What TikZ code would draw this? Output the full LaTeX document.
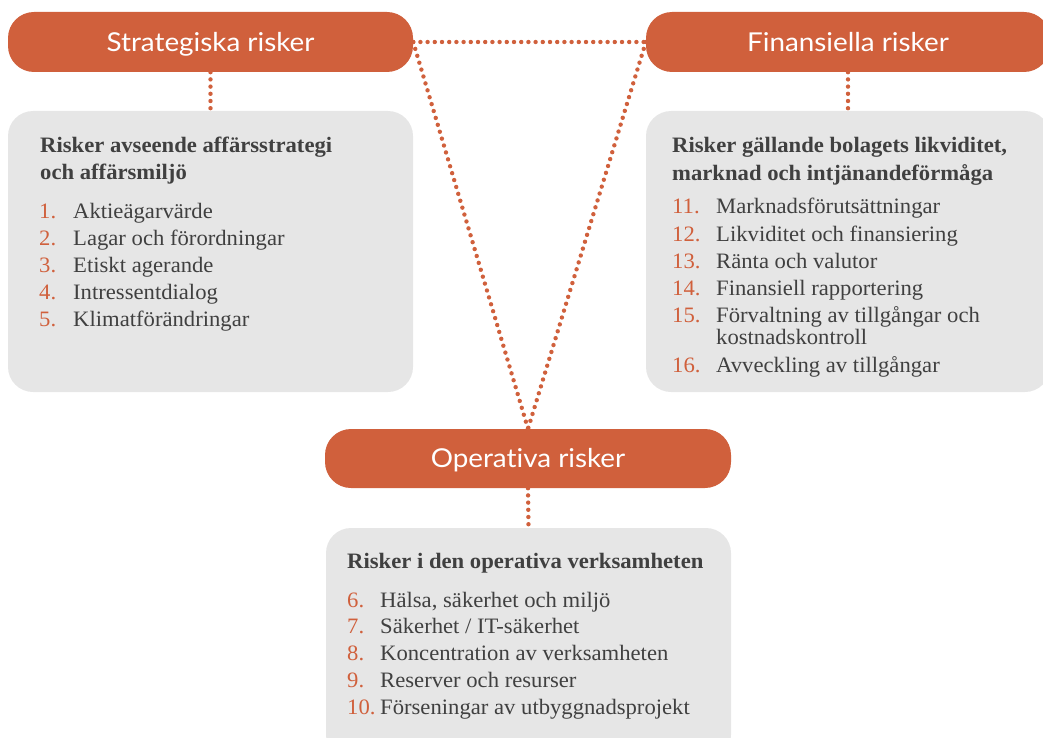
\documentclass[tikz,border=0pt]{standalone}
\usepackage{fontspec}
\setmainfont{Liberation Serif}[FakeStretch=1.03]
\newfontfamily\hdfont{Lato}[FakeStretch=1.07, Ligatures=NoCommon]
\usetikzlibrary{backgrounds}
\definecolor{rorange}{HTML}{D0603C}
\definecolor{rgray}{HTML}{E6E6E6}
\definecolor{rtext}{HTML}{404040}
\begin{document}
\begin{tikzpicture}[x=1pt,y=-1pt,
  header/.style={fill=rorange, rounded corners=26pt, minimum height=60pt, text=white,
    font=\hdfont\fontsize{26}{26}\selectfont, inner sep=0pt, text height=18.5pt, text depth=0pt},
  panel/.style={fill=rgray, rounded corners=25pt, inner sep=0pt},
  dotline/.style={draw=rorange, line width=4.4pt, line cap=round, dash pattern=on 0pt off 7.2pt},
  headtxt/.style={anchor=base west, inner sep=0pt, text=rtext, font=\fontsize{22}{22}\selectfont\bfseries},
  numtxt/.style={anchor=base west, inner sep=0pt, text=rorange, font=\fontsize{22}{22}\selectfont},
  itemtxt/.style={anchor=base west, inner sep=0pt, text=rtext, font=\fontsize{22}{22}\selectfont}]
\useasboundingbox (0,0) rectangle (1043,738);
\clip (0,0) rectangle (1043,738);

% headers
\node[header, minimum width=405pt] (strat) at (210.5,42) {Strategiska risker};
\node[header, minimum width=404pt] (fin) at (848,42) {Finansiella risker};
\node[header, minimum width=406pt, minimum height=59pt] (oper) at (528,458.5) {Operativa risker};

% panels
\node[panel, minimum width=405pt, minimum height=281pt] (lp) at (210.5,251.5) {};
\node[panel, minimum width=404pt, minimum height=281pt] (rp) at (848,251.5) {};
\node[panel, minimum width=405pt, minimum height=232pt] (bp) at (528.5,644) {};

% connectors
\begin{scope}[on background layer]
\draw[dotline] (strat.south) -- (lp.north);
\draw[dotline] (fin.south) -- (rp.north);
\draw[dotline] (oper.south) -- (bp.north);
\draw[dotline] (strat.east) -- (fin.west);
\draw[dotline] (strat.east) -- (oper.north);
\draw[dotline] (fin.west) -- (oper.north);
\end{scope}

% left panel text
\node[headtxt] (lh1) at (40,153) {Risker avseende affärsstrategi};
\node[headtxt] (lh2) at (40,179.5) {och affärsmiljö};
\foreach \n/\t/\y [count=\i] in {1./Aktieägarvärde/218, 2./Lagar och förordningar/245, 3./Etiskt agerande/272, 4./Intressentdialog/299, 5./Klimatförändringar/326}{
  \node[numtxt] (ln\i) at (39,\y) {\n};
  \node[itemtxt] (li\i) at (73,\y) {\t};
}

% right panel text
\node[headtxt] (rh1) at (672,153) {Risker gällande bolagets likviditet,};
\node[headtxt] (rh2) at (672,180) {marknad och intjänandeförmåga};
\foreach \n/\t/\y [count=\i] in {11./Marknadsförutsättningar/213, 12./Likviditet och finansiering/241, 13./Ränta och valutor/268, 14./Finansiell rapportering/295, 15./Förvaltning av tillgångar och/322, 16./Avveckling av tillgångar/372}{
  \node[numtxt] (rn\i) at (672,\y) {\n};
  \node[itemtxt] (ri\i) at (716,\y) {\t};
}
\node[itemtxt] (ri5b) at (716,344) {kostnadskontroll};

% bottom panel text
\node[headtxt] (bh1) at (347,568) {Risker i den operativa verksamheten};
\foreach \n/\t/\y [count=\i] in {6./{Hälsa, säkerhet och miljö}/607, 7./{Säkerhet / IT-säkerhet}/633, 8./Koncentration av verksamheten/660, 9./Reserver och resurser/687, 10./Förseningar av utbyggnadsprojekt/714}{
  \node[numtxt] (bn\i) at (347,\y) {\n};
  \node[itemtxt] (bi\i) at (380,\y) {\t};
}
\end{tikzpicture}
\end{document}
